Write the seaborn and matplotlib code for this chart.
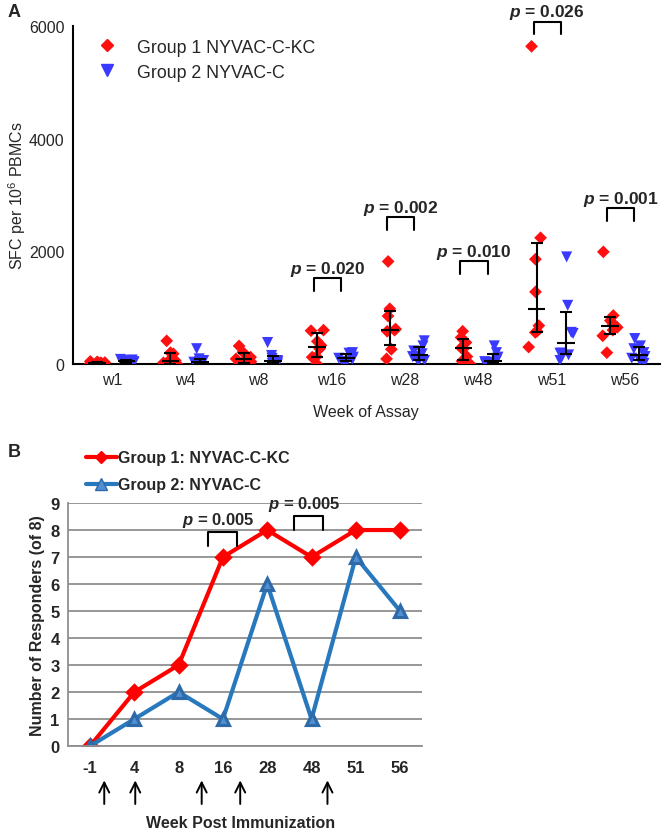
import numpy as np
import pandas as pd
import matplotlib
matplotlib.use('Agg')
import matplotlib.pyplot as plt
import seaborn as sns
from matplotlib.lines import Line2D

# Panel A: IFN-g ELISpot, SFC per 10^6 PBMCs, 8 subjects per group
weeks = ['w1', 'w4', 'w8', 'w16', 'w28', 'w48', 'w51', 'w56']
grp1_sfc = [
    [5, 10, 15, 20, 25, 30, 35, 45],
    [410, 200, 180, 60, 50, 20, 0, 0],
    [320, 210, 120, 90, 70, 40, 10, 0],
    [600, 590, 400, 330, 270, 130, 120, 0],
    [1820, 980, 850, 620, 600, 580, 260, 90],
    [580, 470, 380, 290, 260, 130, 50, 0],
    [5640, 2240, 1860, 1280, 680, 580, 560, 300],
    [1990, 860, 770, 710, 650, 600, 500, 200],
]
grp2_sfc = [
    [10, 20, 30, 40, 50, 60, 70, 80],
    [270, 90, 60, 40, 30, 20, 10, 0],
    [380, 150, 100, 60, 40, 20, 10, 0],
    [200, 190, 150, 120, 100, 80, 40, 10],
    [410, 320, 230, 180, 130, 120, 60, 40],
    [320, 200, 120, 80, 40, 30, 10, 0],
    [1900, 1040, 560, 540, 190, 190, 160, 60],
    [450, 320, 270, 200, 130, 100, 60, 10],
]
pval_weeks = ['w16', 'w28', 'w48', 'w51', 'w56']
pval_text = ['0.020', '0.002', '0.010', '0.026', '0.001']
bracket_top = [1520, 2610, 1820, 6080, 2770]

# Panel B: number of responders (of 8)
wk_post = ['-1', '4', '8', '16', '28', '48', '51', '56']
resp_grp1 = [0, 2, 3, 7, 8, 7, 8, 8]
resp_grp2 = [0, 1, 2, 1, 6, 1, 7, 5]
immun_pos = [0.32, 1.02, 2.52, 3.39, 5.36]   # arrows, in category units
b_pval_pos = [(2.66, 3.32), (4.61, 5.27)]
b_pval_y = [7.93, 8.52]

g1a, g2a = 'Group 1 NYVAC-C-KC', 'Group 2 NYVAC-C'
g1b, g2b = 'Group 1: NYVAC-C-KC', 'Group 2: NYVAC-C'

sns.set_theme(style='white')
plt.rcParams['font.family'] = ['Liberation Sans', 'DejaVu Sans']
plt.rcParams['mathtext.fontset'] = 'custom'
plt.rcParams['mathtext.rm'] = 'Liberation Sans'
plt.rcParams['mathtext.it'] = 'Liberation Sans:italic'
plt.rcParams['mathtext.bf'] = 'Liberation Sans:bold'
plt.rcParams['mathtext.bfit'] = 'Liberation Sans:italic:bold'

rows = []
for w, a, b in zip(weeks, grp1_sfc, grp2_sfc):
    rows += [(w, g1a, v) for v in a]
    rows += [(w, g2a, v) for v in b]
dfa = pd.DataFrame(rows, columns=['week', 'group', 'sfc'])

fig = plt.figure(figsize=(6.66, 8.37), dpi=100)
axA = fig.add_axes([0.1096, 0.564, 0.881, 0.4037])
axB = fig.add_axes([0.102, 0.1075, 0.532, 0.2903])

pal_a = {g1a: '#ff1010', g2a: '#3a3aff'}
np.random.seed(7)
for g, mk, sz in [(g1a, 'D', 6.5), (g2a, 'v', 8)]:
    sns.stripplot(data=dfa[dfa['group'] == g], x='week', y='sfc', hue='group',
                  hue_order=[g1a, g2a], order=weeks, palette=pal_a, dodge=True,
                  jitter=0.22, marker=mk, size=sz, linewidth=0, legend=False, ax=axA)

# median with interquartile range
for i, w in enumerate(weeks):
    for off, vals in [(-0.2, grp1_sfc[i]), (0.2, grp2_sfc[i])]:
        q1, med, q3 = np.percentile(vals, [25, 50, 75], method='weibull')
        axA.errorbar(i + off, med, yerr=[[med - q1], [q3 - med]], color='black',
                     lw=1.5, capsize=4, capthick=1.5, zorder=5)
        axA.hlines(med, i + off - 0.12, i + off + 0.12, color='black', lw=1.5, zorder=5)

for w, txt, top in zip(pval_weeks, pval_text, bracket_top):
    i = weeks.index(w)
    x0, x1 = i - 0.24, i + 0.13
    axA.plot([x0, x0, x1, x1], [top - 230, top, top, top - 230], color='black',
             lw=1.5, clip_on=False)
    axA.text((x0 + x1) / 2, top + 170, r'$\mathbfit{p}$ = ' + txt, ha='center',
             va='center', fontsize=12.5, fontweight='bold', clip_on=False)

axA.set_xlim(-0.53, 7.48)
axA.set_ylim(0, 6000)
axA.set_yticks([0, 2000, 4000, 6000])
axA.tick_params(axis='y', length=5, width=1.5, color='black', labelsize=11.5, pad=1)
axA.tick_params(axis='x', length=0, labelsize=11.5, pad=6)
for s in ['top', 'right']:
    axA.spines[s].set_visible(False)
for s in ['left', 'bottom']:
    axA.spines[s].set_color('black')
    axA.spines[s].set_linewidth(1.5)
axA.set_xlabel('Week of Assay', fontsize=11.5, labelpad=12)
axA.set_ylabel('SFC per 10$^6$ PBMCs', fontsize=11.5, labelpad=1)
handles = [Line2D([], [], ls='none', marker='D', ms=6.5, color=pal_a[g1a]),
           Line2D([], [], ls='none', marker='v', ms=8, color=pal_a[g2a])]
axA.legend(handles, [g1a, g2a], loc='upper left', bbox_to_anchor=(0.0, 1.01),
           frameon=False, fontsize=12.8, handletextpad=0.7, labelspacing=0.45)
fig.text(0.012, 0.985, 'A', fontsize=13, fontweight='bold', va='center')

# Panel B
dfb = pd.DataFrame({'week': wk_post * 2,
                    'n': resp_grp1 + resp_grp2,
                    'group': [g1b] * 8 + [g2b] * 8})
sns.pointplot(data=dfb, x='week', y='n', hue='group', order=wk_post,
              palette={g1b: '#ff0000', g2b: '#2878bd'}, markers=['D', '^'],
              linestyles=['-', '-'], markersize=7, linewidth=3, legend=False, ax=axB)
for ln in axB.lines:
    if ln.get_marker() == '^':
        ln.set_markersize(9)
        ln.set_markerfacecolor('#4f8fd2')
        ln.set_markeredgecolor('#2f6aa8')

axB.set_ylim(0, 9)
axB.set_xlim(-0.5, 7.5)
axB.set_yticks(range(10))
axB.yaxis.grid(True, color='#8f8f8f', lw=1.3)
axB.set_axisbelow(True)
axB.set_xticks(np.arange(-0.5, 8, 1), minor=True)
axB.tick_params(axis='x', which='major', length=0, labelsize=12, pad=10)
axB.tick_params(axis='x', which='minor', length=4, width=1.2, color='#8f8f8f', direction='out')
axB.tick_params(axis='y', length=4, width=1.2, color='#8f8f8f', labelsize=12, pad=2)
for lab in axB.get_xticklabels() + axB.get_yticklabels():
    lab.set_fontweight('bold')
for s in ['top', 'right']:
    axB.spines[s].set_visible(False)
for s in ['left', 'bottom']:
    axB.spines[s].set_color('#8f8f8f')
    axB.spines[s].set_linewidth(1.3)
axB.set_xlabel('')
axB.set_ylabel('Number of Responders (of 8)', fontsize=11.5, fontweight='bold', labelpad=4)

for (x0, x1), top in zip(b_pval_pos, b_pval_y):
    axB.plot([x0, x0, x1, x1], [top - 0.52, top, top, top - 0.52], color='black',
             lw=1.5, clip_on=False)
    axB.text((x0 + x1) / 2 - 0.1, top + 0.47, r'$\mathbfit{p}$ = 0.005', ha='center',
             va='center', fontsize=12, fontweight='bold', clip_on=False)

for xp in immun_pos:
    axB.annotate('', xy=(xp, -0.13), xytext=(xp, -0.25),
                 xycoords=axB.get_xaxis_transform(),
                 arrowprops=dict(arrowstyle='->,head_length=0.6,head_width=0.3',
                                 color='black', lw=1.4))
axB.text(0.486, -0.313, 'Week Post Immunization', transform=axB.transAxes,
         ha='center', va='center', fontsize=11.5, fontweight='bold')

hb = [Line2D([], [], color='#ff0000', lw=3, marker='D', ms=6),
      Line2D([], [], color='#2878bd', lw=3, marker='^', ms=8,
             markerfacecolor='#4f8fd2', markeredgecolor='#2f6aa8')]
fig.legend(hb, [g1b, g2b], loc='upper left', bbox_to_anchor=(0.108, 0.478),
           frameon=False, handlelength=1.9, handletextpad=0.1, labelspacing=0.75,
           prop={'size': 11.5, 'weight': 'bold'})
fig.text(0.012, 0.459, 'B', fontsize=13, fontweight='bold', va='center')

fig.savefig('out.png', dpi=100)
